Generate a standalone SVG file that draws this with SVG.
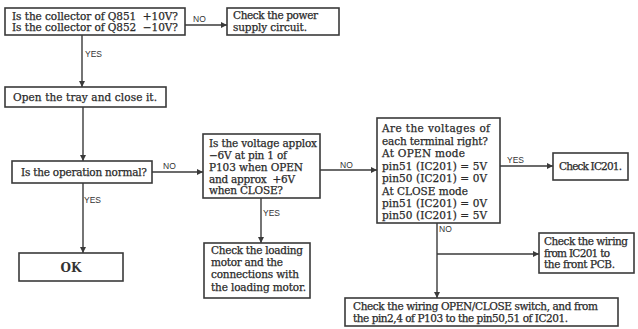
<svg xmlns="http://www.w3.org/2000/svg" width="638" height="329" viewBox="0 0 638 329">
<defs>
<marker id="ah" viewBox="0 0 10 10" refX="10" refY="5" markerWidth="8" markerHeight="6" markerUnits="userSpaceOnUse" orient="auto"><path d="M0,0 L10,5 L0,10 z" fill="#3a3a3a"/></marker>
<style>
.box{fill:#fff;stroke:#3a3a3a;stroke-width:1.6}
.t{font-family:"DejaVu Serif",serif;font-size:10.5px;fill:#2a2a2a;stroke:#2a2a2a;stroke-width:0.25}
.ok{font-family:"DejaVu Serif",serif;font-weight:bold;font-size:12px;fill:#333}
.lb{font-family:"Liberation Sans",sans-serif;font-size:8.5px;fill:#333}
.c{fill:none;stroke:#3a3a3a;stroke-width:1.4}
</style>
</defs>
<rect width="638" height="329" fill="#fff"/>
<g id="connectors">
<path class="c" d="M185,25 L227,25" marker-end="url(#ah)"/>
<path class="c" d="M82,35 L82,87" marker-end="url(#ah)"/>
<path class="c" d="M83,107 L83,161" marker-end="url(#ah)"/>
<path class="c" d="M152,172 L203,172" marker-end="url(#ah)"/>
<path class="c" d="M83,183 L83,253" marker-end="url(#ah)"/>
<path class="c" d="M261,198 L261,243" marker-end="url(#ah)"/>
<path class="c" d="M320,170 L377,170" marker-end="url(#ah)"/>
<path class="c" d="M500,166 L553,166" marker-end="url(#ah)"/>
<path class="c" d="M437,223 L437,298" marker-end="url(#ah)"/>
<path class="c" d="M437,254 L539,254" marker-end="url(#ah)"/>
<text class="lb" x="193" y="22">NO</text>
<text class="lb" x="85" y="57">YES</text>
<text class="lb" x="163" y="169">NO</text>
<text class="lb" x="84" y="203">YES</text>
<text class="lb" x="263" y="216">YES</text>
<text class="lb" x="340" y="168">NO</text>
<text class="lb" x="507" y="163">YES</text>
<text class="lb" x="439" y="232">NO</text>
</g>
<g id="n1"><rect class="box" x="5" y="8" width="180" height="27"/>
<text class="t" x="12" y="20" textLength="166" xml:space="preserve">Is the collector of Q851  +10V?</text>
<text class="t" x="12" y="31" textLength="166" xml:space="preserve">Is the collector of Q852  −10V?</text></g>
<g id="n2"><rect class="box" x="227" y="8" width="112" height="27"/>
<text class="t" x="233" y="19" textLength="85">Check the power</text>
<text class="t" x="233" y="31" textLength="74">supply circuit.</text></g>
<g id="n3"><rect class="box" x="5" y="87" width="161" height="20"/>
<text class="t" x="13" y="101" textLength="144">Open the tray and close it.</text></g>
<g id="n4"><rect class="box" x="12" y="161" width="140" height="22"/>
<text class="t" x="21" y="176" textLength="126">Is the operation normal?</text></g>
<g id="n5"><rect class="box" x="203" y="134" width="117" height="64"/>
<text class="t" x="209" y="147" textLength="108">Is the voltage applox</text>
<text class="t" x="209" y="159" textLength="78">−6V at pin 1 of</text>
<text class="t" x="209" y="171" textLength="94">P103 when OPEN</text>
<text class="t" x="209" y="183" textLength="86" xml:space="preserve">and approx  +6V</text>
<text class="t" x="209" y="194" textLength="74">when CLOSE?</text></g>
<g id="n6"><rect class="box" x="204" y="243" width="106" height="55"/>
<text class="t" x="211" y="254" textLength="92">Check the loading</text>
<text class="t" x="211" y="266" textLength="72">motor and the</text>
<text class="t" x="211" y="278" textLength="88">connections with</text>
<text class="t" x="211" y="291" textLength="95">the loading motor.</text></g>
<g id="n7"><rect class="box" x="19" y="253" width="104" height="28"/>
<text class="ok" x="71" y="272" text-anchor="middle">OK</text></g>
<g id="n8"><rect class="box" x="377" y="118" width="123" height="105"/>
<text class="t" x="382" y="132" textLength="108">Are the voltages of</text>
<text class="t" x="382" y="144.5" textLength="106">each terminal right?</text>
<text class="t" x="382" y="157" textLength="83">At OPEN mode</text>
<text class="t" x="382" y="169.5" textLength="105">pin51 (IC201) = 5V</text>
<text class="t" x="382" y="182" textLength="105">pin50 (IC201) = 0V</text>
<text class="t" x="382" y="194.5" textLength="86">At CLOSE mode</text>
<text class="t" x="382" y="207" textLength="105">pin51 (IC201) = 0V</text>
<text class="t" x="382" y="219" textLength="105">pin50 (IC201) = 5V</text></g>
<g id="n9"><rect class="box" x="553" y="153" width="75" height="27"/>
<text class="t" x="559" y="170" textLength="63">Check IC201.</text></g>
<g id="n10"><rect class="box" x="539" y="233" width="95" height="40"/>
<text class="t" x="544" y="245" textLength="84">Check the wiring</text>
<text class="t" x="544" y="257" textLength="66">from IC201 to</text>
<text class="t" x="544" y="268" textLength="71">the front PCB.</text></g>
<g id="n11"><rect class="box" x="345" y="298" width="273" height="28"/>
<text class="t" x="353" y="310" textLength="245">Check the wiring OPEN/CLOSE switch, and from</text>
<text class="t" x="353" y="322" textLength="215">the pin2,4 of P103 to the pin50,51 of IC201.</text></g>
</svg>
